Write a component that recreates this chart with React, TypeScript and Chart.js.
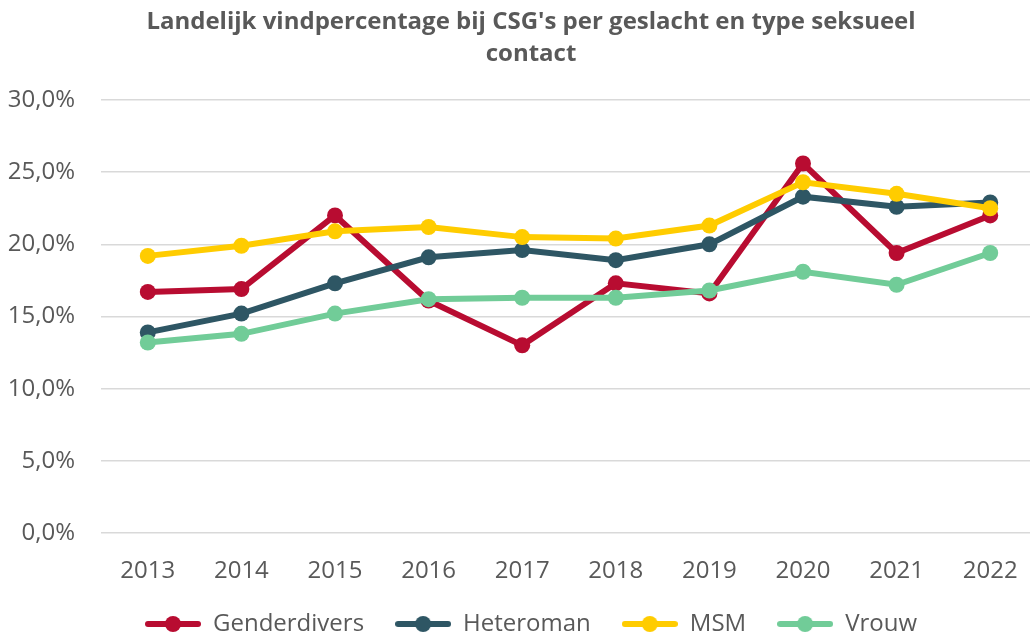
import React, { useEffect, useRef } from "react";
import { Chart, registerables } from "chart.js";

Chart.register(...registerables);

const years = ["2013", "2014", "2015", "2016", "2017", "2018", "2019", "2020", "2021", "2022"];
const genderdivers = [16.7, 16.9, 22.0, 16.1, 13.0, 17.3, 16.6, 25.6, 19.4, 22.0];
const heteroman = [13.9, 15.2, 17.3, 19.1, 19.6, 18.9, 20.0, 23.3, 22.6, 22.9];
const msm = [19.2, 19.9, 20.9, 21.2, 20.5, 20.4, 21.3, 24.3, 23.5, 22.5];
const vrouw = [13.2, 13.8, 15.2, 16.2, 16.3, 16.3, 16.8, 18.1, 17.2, 19.4];
const seriesNames = ["Genderdivers", "Heteroman", "MSM", "Vrouw"];
const seriesColors = ["#B80C31", "#2E5664", "#FFCC00", "#71CC98"];
const titleLines = ["Landelijk vindpercentage bij CSG's per geslacht en type seksueel", "contact"];

const FONT = "'Open Sans', sans-serif";
const TEXT = "#595959";

function legendMarker(color: string): HTMLCanvasElement {
  const c = document.createElement("canvas");
  c.width = 56;
  c.height = 18;
  const ctx = c.getContext("2d")!;
  ctx.strokeStyle = color;
  ctx.lineWidth = 6;
  ctx.lineCap = "round";
  ctx.beginPath();
  ctx.moveTo(3, 9);
  ctx.lineTo(53, 9);
  ctx.stroke();
  ctx.fillStyle = color;
  ctx.beginPath();
  ctx.arc(28, 9, 8, 0, Math.PI * 2);
  ctx.fill();
  return c;
}

const unclipYLabels = {
  id: "unclipYLabels",
  afterLayout(chart: any) {
    if (chart.scales.y) chart.scales.y.left = 0;
  },
};

export default function App() {
  const ref = useRef<HTMLCanvasElement>(null);
  useEffect(() => {
    const values = [genderdivers, heteroman, msm, vrouw];
    const markers = seriesColors.map(legendMarker);
    const chart = new Chart(ref.current!, {
      type: "line",
      data: {
        labels: years,
        datasets: values.map((v, i) => ({
          label: seriesNames[i],
          data: v,
          borderColor: seriesColors[i],
          backgroundColor: seriesColors[i],
          pointBackgroundColor: seriesColors[i],
          pointBorderColor: seriesColors[i],
          borderWidth: 6,
          pointRadius: 8,
          pointBorderWidth: 0,
          tension: 0,
          order: 4 - i,
        })),
      },
      plugins: [unclipYLabels],
      options: {
        responsive: false,
        animation: false,
        layout: { padding: { left: 25, right: 25, top: 0, bottom: 0 } },
        plugins: {
          title: {
            display: true,
            text: titleLines,
            color: TEXT,
            font: { family: FONT, size: 24, weight: "bold", lineHeight: 1.3333 },
            padding: { top: 6, bottom: 30 },
          },
          legend: {
            position: "bottom",
            labels: {
              usePointStyle: true,
              pointStyleWidth: 56,
              padding: 31,
              color: TEXT,
              font: { family: FONT, size: 24 },
              generateLabels: (ch: any) => {
                const items = Chart.defaults.plugins.legend.labels.generateLabels(ch);
                items.forEach((it: any) => {
                  it.pointStyle = markers[it.datasetIndex];
                });
                return items.sort((a: any, b: any) => a.datasetIndex - b.datasetIndex);
              },
            },
          },
          tooltip: { enabled: false },
        },
        scales: {
          x: {
            offset: true,
            afterFit: (s: any) => {
              s.height = 48;
            },
            grid: { display: false, drawTicks: false },
            border: { display: false },
            ticks: { color: TEXT, font: { family: FONT, size: 24 }, padding: 24, maxRotation: 0 },
          },
          y: {
            min: 0,
            max: 30,
            afterFit: (s: any) => {
              s.width = 76;
            },
            grid: { color: "#D9D9D9", lineWidth: 1.5, drawTicks: false },
            border: { display: false },
            ticks: {
              stepSize: 5,
              padding: 26,
              color: TEXT,
              font: { family: FONT, size: 24 },
              callback: (v: any) => Number(v).toFixed(1).replace(".", ",") + "%",
            },
          },
        },
      },
    });
    return () => chart.destroy();
  }, []);
  return (
    <div style={{ position: "absolute", left: 0, top: 0, width: 1030, height: 636, overflow: "hidden", background: "#fff" }}>
      <canvas ref={ref} width={1062} height={646} style={{ display: "block" }} />
    </div>
  );
}
